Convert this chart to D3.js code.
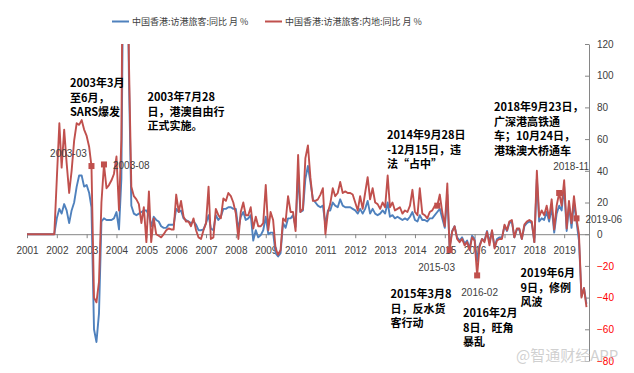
<!DOCTYPE html>
<html><head><meta charset="utf-8">
<script src="https://cdn.jsdelivr.net/npm/d3@7/dist/d3.min.js"></script>
<style>
body{margin:0;background:#fff;}
svg{display:block;font-family:"Liberation Sans",Arial,sans-serif;}
</style></head><body>
<svg id="chart" width="634" height="373"></svg>
<script>
// ---------------- data ----------------
const seriesNames = ["中国香港:访港旅客:同比 月 %", "中国香港:访港旅客:内地:同比 月 %"];
const firstMonth = "2001-01";
// 中国香港:访港旅客:同比 (monthly, 2001-01 .. 2019-10)
const totalYoY = [
  0,0,0,0,0,0,0,0,0,0,0,0,
  10,16,13,19,15,7,15,20,30,37,37,30,
  31,26,17,-60,-68,-50,8,10,9,9,9,10,
  14,3,35,220,230,100,18,13,12,13,14,15,
  15,12,5,11,9,8,5,4,4,6,6,6,
  16,14,15,10,9,8,7,8,6,2.5,2.5,3,
  7,12,3.6,2.5,12,9,11,16,16,17,17,16,
  16,3,11,14,9,10,12,-4,2.5,-2,-0.6,2.5,
  11,0,1,1,-12,-14,-12,7,4,10,10,12,
  4.6,38,14,15,35,43,33,22,20,18,17,18,
  6,15,15,20,18,17,22,18,17,17,17,16,
  15,13,16,13,16,21,13,16,13,12,13,15,
  13,20,11,12,10,11,10,9,10,9,11,14,
  9,8,12,9,9,8,10,10,12,14,16,10,
  4,25,-8,2,5,-2,-4,-2,-6,-4,-9,-1,
  -3,-17,-7,-3,-4,2,-5,2,-8,-3,-2,-2,
  5,2,7,8,-2,3,3,-3,5,7,8,7,
  -5,35,8,10,9,14,8,17,1,13,18,15,
  30,2,18,4,20,8,-4,-39,-34,-44
];
// 中国香港:访港旅客:内地:同比
const mainlandYoY = [
  0,0,0,0,0,0,0,0,0,0,0,0,
  35,70,42,66,45,26,40,59,70,69,72,66,
  62,55,43,-40,-43,-30,20,44,29,31,34,38,
  49,15,60,280,260,110,30,24,22,19,7,17,
  -5,27,-5,10,0,-1,-2,0,2.5,3.6,3,3,
  25,14,21,11,8,8,5,10,2.5,-2,-3,2.5,
  7,30,-3,-2,16,12,10,22.5,21,26,24,20,
  13,-3,14,20,12,12,17,3.6,11,5,5,7,
  31,2.5,14,9,-9,-13,-10,10,8,24,14,14,
  2,50,14,16,48,56,36,21,21,22,25,29,
  0,14,19,29,24,26,33,26,27,26,26,25,
  20,15,24,16,26,36,22,29,20,19,16,20,
  17,37,17,20,15,16,17,13,15,14,18,28,
  14,12,29,13,12,10,14,15,18,18,25,14,
  5,32,-10,1.5,5,-3,-5,-3,-7,-5,-10,-2,
  -4,-26,-8,-3,-5,1.5,-7,2.5,-9,-4,-3,-3,
  6,2.5,8,9,-2,3.6,3.6,-3,6,8,9,8,
  -5,40,11,15,12,18,10,22,3,18,26,18,
  34,3.6,21,7,24,10,0,-40,-34,-46
];
const yearLabels = ["2001","2002","2003","2004","2005","2006","2007","2008","2009","2010",
  "2011","2012","2013","2014","2015","2016","2017","2018","2019"];
const valueTicks = [-80,-60,-40,-20,0,20,40,60,80,100,120];
const markedMonths = ["2003-03","2003-08","2014-10","2015-03","2016-02","2018-11","2019-06"];
const markedLabels = ["2003-03","2003-08","","2015-03","2016-02","2018-11","2019-06"];
const noteTexts = [
  ["2003年3月","至6月，","SARS爆发"],
  ["2003年7月28","日，港澳自由行","正式实施。"],
  ["2014年9月28日","-12月15日，违","法“占中”"],
  ["2018年9月23日，","广深港高铁通","车；10月24日，","港珠澳大桥通车"],
  ["2015年3月8","日，反水货","客行动"],
  ["2016年2月","8日，旺角","暴乱"],
  ["2019年6月","9日，修例","风波"]
];

// ---------------- layout ----------------
const W = 634, H = 373;
const plot = {left: 27, right: 589, top: 44, bottom: 361};
const colors = {total: "#4f81bd", mainland: "#c0504d", axis: "#868686", text: "#404040", neg: "#ff0000"};
const labelOffsets = [[-23,-13,"middle"],[9,1.5,"start"],null,[-13,17.5,"middle"],[2.5,17,"middle"],[12,-26,"middle"],[9,1,"start"]];
const notePos = [[70,82],[147.5,96],[387,134],[494,106],[390.5,293],[463,312],[520.5,272]];
const noteLineGap = 14.6;

const parseMonth = d3.timeParse("%Y-%m");
const start = parseMonth(firstMonth);
const dates = totalYoY.map((_, i) => d3.timeMonth.offset(start, i));

const svg = d3.select("#chart");
const x = d3.scaleTime().domain([start, parseMonth("2019-11")]).range([plot.left, plot.right]);
const y = d3.scaleLinear().domain([-80, 120]).range([plot.bottom, plot.top]);

svg.append("defs").append("clipPath").attr("id","clip")
  .append("rect").attr("x", plot.left - 2).attr("y", plot.top)
  .attr("width", plot.right - plot.left + 4).attr("height", plot.bottom - plot.top);

// bottom axis on zero line
const xAxis = d3.axisBottom(x)
  .tickValues(yearLabels.map(s => d3.timeParse("%Y")(s)))
  .tickFormat(d3.timeFormat("%Y"))
  .tickSizeInner(4).tickSizeOuter(0).tickPadding(8.5);
const gx = svg.append("g").attr("transform", `translate(0,${y(0)})`).call(xAxis);
gx.select(".domain").attr("stroke", colors.axis);
gx.selectAll(".tick line").attr("stroke", colors.axis);
gx.selectAll(".tick text").attr("fill", colors.text).style("font-size","10px")
  .style("font-family",'"Liberation Sans",Arial,sans-serif');

// right axis
const yAxis = d3.axisRight(y).tickValues(valueTicks).tickFormat(d3.format("d"))
  .tickSizeInner(-4).tickSizeOuter(0).tickPadding(8);
const gy = svg.append("g").attr("transform", `translate(${plot.right},0)`).call(yAxis);
gy.select(".domain").attr("stroke", colors.axis);
gy.selectAll(".tick line").attr("stroke", colors.axis);
gy.selectAll(".tick text").attr("fill", d => d < 0 ? colors.neg : colors.text)
  .style("font-size","10px").style("font-family",'"Liberation Sans",Arial,sans-serif');

// lines
const line = d3.line().x((d, i) => x(dates[i])).y(d => y(d));
const gl = svg.append("g").attr("clip-path","url(#clip)");
gl.append("path").datum(totalYoY).attr("d", line)
  .attr("fill","none").attr("stroke", colors.total).attr("stroke-width", 1.9).attr("stroke-linejoin","round");
gl.append("path").datum(mainlandYoY).attr("d", line)
  .attr("fill","none").attr("stroke", colors.mainland).attr("stroke-width", 1.9).attr("stroke-linejoin","round");

// markers
const fmt = d3.timeFormat("%Y-%m");
markedMonths.forEach((m, k) => {
  const i = dates.findIndex(d => fmt(d) === m);
  const px = x(dates[i]), py = y(mainlandYoY[i]);
  svg.append("rect").attr("x", px - 3).attr("y", py - 3).attr("width", 6).attr("height", 6)
    .attr("fill", colors.mainland);
  const off = labelOffsets[k];
  if (off && markedLabels[k]) {
    svg.append("text").attr("x", px + off[0]).attr("y", py + off[1])
      .attr("text-anchor", off[2]).attr("dominant-baseline","central")
      .attr("fill", colors.text).style("font-size","10px").text(markedLabels[k]);
  }
});

// notes
noteTexts.forEach((lines, k) => {
  const t = svg.append("text").attr("fill","#000")
    .style("font-family",'"Noto Sans CJK SC","Noto Sans",sans-serif')
    .style("font-size","11px").style("font-weight","bold");
  lines.forEach((s, j) => {
    t.append("tspan").attr("x", notePos[k][0]).attr("y", notePos[k][1] + j * noteLineGap)
      .attr("dominant-baseline","central").text(s);
  });
});

// legend
const legend = svg.append("g").style("font-family",'"Noto Sans CJK SC",sans-serif').style("font-size","9px");
[[112, colors.total, seriesNames[0]], [265, colors.mainland, seriesNames[1]]].forEach(([lx, c, name]) => {
  legend.append("line").attr("x1", lx).attr("x2", lx + 17).attr("y1", 21.5).attr("y2", 21.5)
    .attr("stroke", c).attr("stroke-width", 2);
  legend.append("text").attr("x", lx + 20).attr("y", 21.5).attr("dominant-baseline","central")
    .attr("fill", colors.text).text(name);
});

// watermark
svg.append("text").attr("x", 516).attr("y", 354).attr("dominant-baseline","central")
  .attr("fill", "#c8c8c8").attr("fill-opacity", 0.85).style("font-family",'"Noto Sans CJK SC",sans-serif')
  .style("font-size","15px").text("@智通财经APP");
</script>
</body></html>
